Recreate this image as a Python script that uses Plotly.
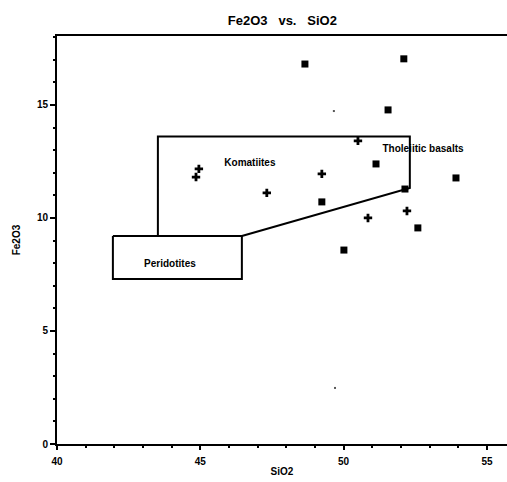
import plotly.graph_objects as go

# Data
sq_x = [48.65, 52.10, 51.55, 51.13, 53.92, 52.14, 49.24, 52.59, 50.01]
sq_y = [16.81, 17.04, 14.78, 12.39, 11.77, 11.28, 10.71, 9.56, 8.58]

cr_x = [44.95, 44.85, 47.32, 49.24, 50.50, 50.85, 52.21]
cr_y = [12.17, 11.81, 11.11, 11.95, 13.41, 10.00, 10.31]

dot_x = [49.66, 49.70]
dot_y = [14.73, 2.48]

# Field boundaries (SiO2, Fe2O3)
field_x = [43.52, 43.52, 52.31, 52.31, 46.45]
field_y = [9.20, 13.60, 13.60, 11.33, 9.20]
perid_x = [41.95, 46.45, 46.45, 41.95, 41.95]
perid_y = [9.20, 9.20, 7.30, 7.30, 9.20]

labels = ["Komatiites", "Tholeiitic basalts", "Peridotites"]
label_x = [46.73, 52.77, 43.94]
label_y = [12.43, 13.05, 7.96]

x_ticks = [40, 45, 50, 55]
y_ticks = [0, 5, 10, 15]

FONT = "Liberation Sans, Arial, sans-serif"

fig = go.Figure()
fig.add_trace(go.Scatter(x=field_x, y=field_y, mode="lines",
                         line=dict(color="black", width=2), hoverinfo="skip"))
fig.add_trace(go.Scatter(x=perid_x, y=perid_y, mode="lines",
                         line=dict(color="black", width=2), hoverinfo="skip"))
fig.add_trace(go.Scatter(x=sq_x, y=sq_y, mode="markers",
                         marker=dict(symbol="square", size=7, color="black")))
fig.add_trace(go.Scatter(x=cr_x, y=cr_y, mode="markers",
                         marker=dict(symbol="cross", size=7, color="black")))
fig.add_trace(go.Scatter(x=dot_x, y=dot_y, mode="markers",
                         marker=dict(symbol="square", size=2, color="#555")))
fig.add_trace(go.Scatter(x=label_x, y=label_y, mode="text", text=labels,
                         textfont=dict(family=FONT, size=10, color="black", weight="bold"),
                         hoverinfo="skip"))

fig.update_layout(
    width=507, height=482,
    margin=dict(l=57, r=0, t=36, b=38),
    paper_bgcolor="white", plot_bgcolor="white",
    showlegend=False,
    title=dict(text="Fe2O3&nbsp;&nbsp;&nbsp;vs.&nbsp;&nbsp;&nbsp;SiO2", x=0.557, xanchor="center",
               y=0.958, yanchor="middle",
               font=dict(family=FONT, size=13, color="black", weight="bold")),
    font=dict(family=FONT, size=10, color="black"),
)
fig.update_xaxes(range=[40, 55.7], tickvals=x_ticks, ticktext=[str(v) for v in x_ticks],
                 automargin=False,
                 showgrid=False, zeroline=False, showline=True, linecolor="black",
                 linewidth=2, mirror=True, ticks="outside", ticklen=4, tickwidth=2,
                 tickcolor="black", ticklabelstandoff=3,
                 minor=dict(dtick=1, tick0=40, ticks="outside", ticklen=2, tickcolor="black"),
                 tickfont=dict(family=FONT, size=10, weight="bold"),
                 title=dict(text="SiO2", standoff=2,
                            font=dict(family=FONT, size=10, weight="bold")))
fig.update_yaxes(range=[0, 18.05], tickvals=y_ticks, ticktext=[str(v) for v in y_ticks],
                 automargin=False,
                 showgrid=False, zeroline=False, showline=True, linecolor="black",
                 linewidth=2, mirror=False, ticks="outside", ticklen=5, tickwidth=2,
                 tickcolor="black",
                 minor=dict(dtick=1, tick0=0, ticks="outside", ticklen=2, tickcolor="black"),
                 tickfont=dict(family=FONT, size=10, weight="bold"),
                 title=dict(text="Fe2O3", standoff=14,
                            font=dict(family=FONT, size=10, weight="bold")))

fig.write_html("out.html", config={"displayModeBar": False},
               post_script="document.body.style.margin='0';document.body.style.overflow='hidden';")
